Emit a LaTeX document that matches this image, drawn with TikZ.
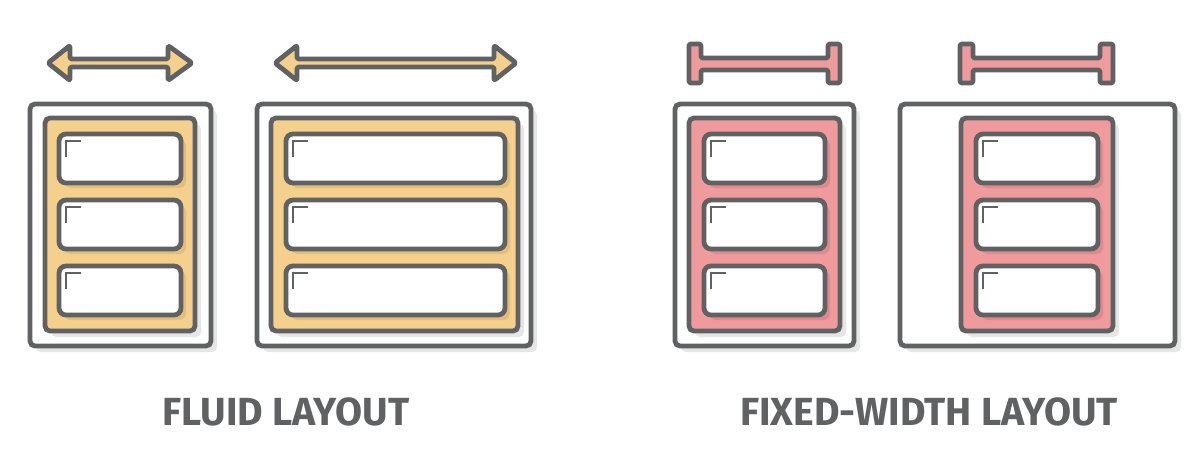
\documentclass[tikz,border=0pt]{standalone}
\usepackage{fontspec}
\setsansfont{Fira Sans}
\usetikzlibrary{shadows}
\definecolor{ink}{HTML}{5F6163}
\definecolor{fluidfill}{HTML}{F5CF8C}
\definecolor{fluiddark}{HTML}{E2BE7E}
\definecolor{fixedfill}{HTML}{EF9A9D}
\definecolor{fixeddark}{HTML}{DB8B8E}
\definecolor{shade}{HTML}{E6E6E6}
\tikzset{
  frame/.style={draw=ink, line width=2.4pt, fill=#1, rounded corners=2.5pt,
    drop shadow={shadow xshift=3pt, shadow yshift=-3pt, fill=shade, opacity=1}},
  slot/.style={draw=ink, line width=2.4pt, fill=white, rounded corners=3.5pt,
    drop shadow={shadow xshift=2.5pt, shadow yshift=-2.5pt, fill=#1, opacity=1}},
  tick/.style={draw=ink, line width=1.2pt},
  gauge/.style={draw=ink, line width=2.4pt, fill=#1, line join=round, rounded corners=1pt},
  caption/.style={font=\sffamily\bfseries\fontsize{19.6}{20}\selectfont, text=ink}
}
\begin{document}
\begin{tikzpicture}[x=0.5pt, y=-0.5pt]
\useasboundingbox (0,0) rectangle (1200,472);

% outer box, coloured panel, three slots
\foreach \boxl/\boxr/\panl/\panr/\slotl/\slotr/\kind in {
    30/211/45/195/59/181/fluid,
    257/531/271/518/286/505/fluid,
    675/854/689/840/704/825/fixed,
    900/1175/961/1113/976/1098/fixed} {
  \draw[frame=white] (\boxl,104) rectangle (\boxr,346);
  \draw[frame=\kind fill] (\panl,118) rectangle (\panr,331);
  \foreach \k in {0,1,2} {
    \draw[slot=\kind dark] (\slotl,134+66*\k) rectangle (\slotr,183+66*\k);
    \draw[tick] (\slotl+7,157+66*\k) -- (\slotl+7,141+66*\k) -- (\slotl+22,141+66*\k);
  }
}

% stretching arrows
\draw[gauge=fluidfill] (48,63) -- (70,45.5) -- (70,59) -- (168,59) -- (168,45.5)
  -- (192,63) -- (168,80.5) -- (168,67) -- (70,67) -- (70,80.5) -- cycle;
\draw[gauge=fluidfill] (275,63) -- (297,45.5) -- (297,59) -- (494,59) -- (494,45.5)
  -- (516,63) -- (494,80.5) -- (494,67) -- (297,67) -- (297,80.5) -- cycle;

% fixed bars
\draw[gauge=fixedfill] (689,44) -- (701,44) -- (701,58) -- (828,58) -- (828,44)
  -- (840,44) -- (840,83) -- (828,83) -- (828,70) -- (701,70) -- (701,83) -- (689,83) -- cycle;
\draw[gauge=fixedfill] (960,44) -- (973,44) -- (973,58) -- (1100,58) -- (1100,44)
  -- (1113,44) -- (1113,83) -- (1100,83) -- (1100,70) -- (973,70) -- (973,83) -- (960,83) -- cycle;

\node[caption] (fluidlabel) at (286,412) {FLUID LAYOUT};
\node[caption] (fixedlabel) at (929,412) {FIXED-WIDTH LAYOUT};
\end{tikzpicture}
\end{document}
